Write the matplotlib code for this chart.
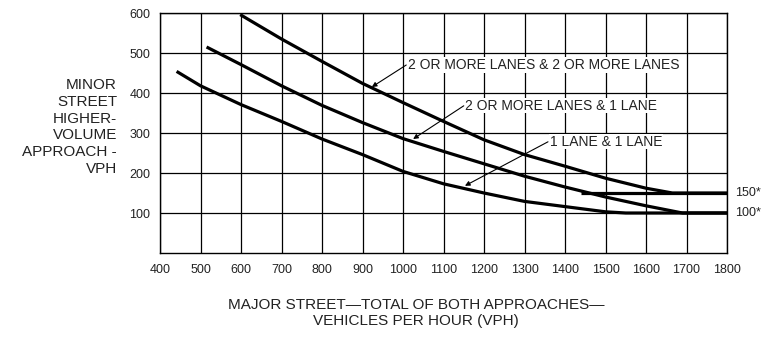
import matplotlib
matplotlib.use("Agg")
import matplotlib.pyplot as plt

plt.rcParams['font.family'] = ['Liberation Sans', 'DejaVu Sans']

# curves (major street vph, minor street vph)
two_two_x = [598, 700, 800, 900, 1000, 1100, 1200, 1300, 1400, 1500, 1600, 1665, 1800]
two_two_y = [596, 535, 479, 424, 376, 329, 283, 246, 217, 187, 162, 150, 150]

two_one_x = [515, 600, 700, 800, 900, 1000, 1100, 1200, 1300, 1400, 1500, 1600, 1690, 1800]
two_one_y = [515, 471, 418, 369, 326, 286, 254, 223, 192, 165, 140, 118, 100, 100]

one_one_x = [441, 500, 600, 700, 800, 900, 1000, 1100, 1200, 1300, 1400, 1500, 1550, 1800]
one_one_y = [454, 418, 371, 329, 285, 246, 204, 173, 150, 129, 116, 103, 100, 100]

# short horizontal 150 threshold segment
thresh_x = [1440, 1800]
thresh_y = [150, 150]

x_ticks = list(range(400, 1900, 100))
y_ticks = [100, 200, 300, 400, 500, 600]

# label text, arrow tail (text anchor) and arrow head
labels = ["2 OR MORE LANES & 2 OR MORE LANES", "2 OR MORE LANES & 1 LANE", "1 LANE & 1 LANE"]
label_pos = [(1008, 470), (1150, 368), (1358, 278)]
arrow_head = [(923, 415), (1025, 285), (1153, 168)]

side_labels = ["150*", "100*"]
side_vals = [150, 100]

fig = plt.figure(figsize=(7.71, 3.38), dpi=100)
ax = fig.add_axes([160 / 771, 85 / 338, 567 / 771, 240 / 338])

for xs, ys in [(two_two_x, two_two_y), (two_one_x, two_one_y),
               (one_one_x, one_one_y), (thresh_x, thresh_y)]:
    ax.plot(xs, ys, color='black', lw=2.3, solid_capstyle='butt', clip_on=False, zorder=3)

ax.set_xlim(400, 1800)
ax.set_ylim(0, 600)
ax.set_xticks(x_ticks)
ax.set_yticks(y_ticks)
ax.grid(True, color='black', lw=0.9)
ax.set_axisbelow(True)
for s in ax.spines.values():
    s.set_linewidth(1.0)
ax.tick_params(length=0, labelsize=9, colors='#222222')
ax.tick_params(axis='x', pad=8)
ax.tick_params(axis='y', pad=7)

for txt, (tx, ty), (hx, hy) in zip(labels, label_pos, arrow_head):
    ax.annotate("", xy=(hx, hy), xytext=(tx, ty),
                arrowprops=dict(arrowstyle='-|>', color='black', lw=0.8,
                                mutation_scale=7, shrinkA=0, shrinkB=0))
    ax.text(tx + 4, ty, txt, ha='left', va='center', fontsize=10, color='#222222',
            bbox=dict(facecolor='white', edgecolor='none', pad=0.5))

for txt, v in zip(side_labels, side_vals):
    ax.text(1820, v, txt, ha='left', va='center', fontsize=9, color='#222222', clip_on=False)

fig.text(117 / 771, 1 - 127 / 338, "MINOR\nSTREET\nHIGHER-\nVOLUME\nAPPROACH -\nVPH",
         ha='right', va='center', multialignment='right', fontsize=11,
         linespacing=1.27, color='#222222')
fig.text(416 / 771, 1 - 313 / 338,
         "MAJOR STREET\u2014TOTAL OF BOTH APPROACHES\u2014\nVEHICLES PER HOUR (VPH)",
         ha='center', va='center', multialignment='center', fontsize=11,
         linespacing=1.12, color='#222222')

fig.savefig("out.png", dpi=100)
